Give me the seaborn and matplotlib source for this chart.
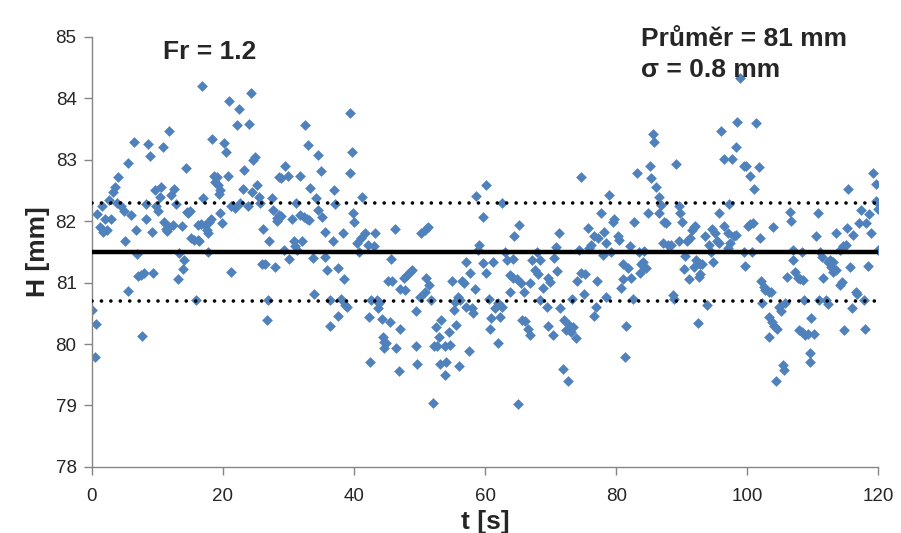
import numpy as np
import pandas as pd
import seaborn as sns
import matplotlib.pyplot as plt

sns.set_theme(style='white')
plt.rcParams['font.family'] = ['Liberation Sans', 'DejaVu Sans']

# measured water level H [mm] over time t [s]
t_s = [
    # 0-9
    0.05, 0.46, 0.6, 0.71, 1.22, 1.58, 1.73, 1.98, 2.24, 2.6, 2.9, 3.26, 3.6, 3.76, 4.02, 4.43,
    4.93, 5.04, 5.45, 5.55, 5.95, 6.36, 6.67, 6.82, 7.07, 7.48, 7.58, 7.99, 8.19, 8.24, 8.6, 8.85,
    # 9-19
    9.1, 9.25, 9.6, 9.76, 10.02, 10.37, 10.53, 10.78, 11.04, 11.29, 11.45, 11.8, 11.8, 12.05, 12.31,
    12.56, 12.82, 13.07, 13.33, 13.68, 13.83, 14.09, 14.34, 14.5, 14.7, 15.0, 15.1, 15.62, 15.87,
    16.12, 16.12, 16.38, 16.63, 16.74, 16.89, 17.24, 17.55, 17.65, 17.65, 17.9, 18.16, 18.26, 18.57, 18.77,
    # 19-29
    19.08, 19.18, 19.34, 19.54, 19.6, 19.85, 20.2, 20.46, 20.71, 20.86, 21.22, 21.22, 21.88, 22.08,
    22.39, 22.6, 23.0, 23.26, 23.76, 23.92, 24.22, 24.43, 24.53, 24.93, 25.14, 25.55, 25.65, 25.95,
    26.16, 26.46, 26.67, 26.82, 27.07, 27.48, 27.58, 27.99, 28.2, 28.3, 28.6, 28.6, 28.85, 28.85,
    # 29-39
    29.25, 29.51, 29.92, 30.12, 30.53, 30.78, 31.0, 31.14, 31.3, 31.8, 31.8, 32.05, 32.3, 32.56, 32.8,
    32.97, 33.17, 33.33, 33.68, 33.83, 34.19, 34.5, 34.5, 35.0, 35.1, 35.51, 35.62, 35.87, 36.38,
    36.38, 36.74, 36.89, 37.04, 37.55, 37.55, 38.06, 38.26, 38.41, 38.67, 38.92,
    # 39-49
    39.34, 39.44, 39.69, 39.85, 40.05, 40.46, 40.71, 41.07, 41.22, 41.73, 42.1, 42.24, 42.49, 42.6,
    43.0, 43.26, 43.5, 43.6, 43.8, 44.27, 44.4, 44.6, 44.9, 44.6, 45.14, 45.55, 45.65, 45.8, 46.31,
    46.46, 46.82, 46.97, 47.07, 47.6, 47.84, 48.1, 48.6, 48.85,
    # 49-59
    49.41, 49.51, 49.61, 50.12, 50.27, 50.78, 50.78, 50.93, 51.29, 51.44, 51.8, 52.05, 52.15, 52.56,
    52.66, 52.97, 53.17, 53.33, 53.83, 53.83, 54.09, 54.5, 54.6, 55.0, 55.2, 55.44, 55.62, 55.8,
    56.02, 56.2, 56.53, 56.74, 57.04, 57.14, 57.55, 57.75, 58.06, 58.16, 58.41, 58.67, 58.92, 59.1,
    # 59-69
    59.69, 59.69, 60.05, 60.2, 60.56, 60.71, 60.86, 61.22, 61.5, 61.88, 62.0, 62.24, 62.49, 62.5,
    63.0, 63.4, 63.77, 63.77, 64.3, 64.27, 64.43, 64.78, 65.04, 65.14, 65.44, 65.65, 65.95, 66.05,
    66.46, 66.82, 66.82, 67.07, 67.58, 67.84, 67.99, 68.35, 68.35, 68.85,
    # 69-79
    69.41, 69.51, 69.61, 69.92, 70.27, 70.53, 70.78, 70.93, 71.29, 71.44, 71.8, 72.05, 72.31, 72.66,
    72.82, 73.07, 73.17, 73.33, 73.83, 73.99, 74.34, 74.6, 74.6, 75.1, 75.2, 75.62, 75.87, 76.13,
    76.63, 76.63, 76.89, 77.04, 77.14, 77.65, 77.9, 78.16, 78.41, 78.41, 78.92,
    # 79-89
    79.18, 79.44, 79.69, 80.2, 80.36, 80.71, 80.97, 81.07, 81.37, 81.47, 81.73, 82.08, 82.24, 82.59,
    82.75, 83.1, 83.41, 83.6, 83.76, 84.0, 84.27, 84.27, 84.53, 84.78, 85.14, 85.29, 85.55, 85.8,
    86.0, 86.46, 86.8, 86.56, 87.07, 87.33, 87.58, 87.84, 88.35, 88.6, 88.85,
    # 89-99
    89.1, 89.5, 89.5, 89.76, 90.02, 90.27, 90.53, 90.8, 91.04, 91.29, 91.55, 91.8, 91.8, 92.05, 92.15,
    92.46, 92.56, 92.7, 92.8, 93.07, 93.58, 93.83, 94.09, 94.5, 94.6, 94.7, 95.0, 95.36, 95.62,
    95.72, 96.02, 96.38, 96.5, 97.04, 97.04, 97.24, 97.4, 97.65, 97.9, 98.26, 98.26, 98.41, 98.92,
    # 99-109
    99.44, 99.44, 99.69, 99.85, 100.05, 100.35, 100.45, 100.71, 100.86, 101.07, 101.37, 101.73,
    101.98, 102.1, 102.24, 102.49, 102.75, 103.26, 103.26, 103.26, 103.6, 103.77, 103.92, 104.12,
    104.43, 104.53, 104.78, 105.14, 105.44, 105.65, 105.8, 106.05, 106.46, 106.67, 106.97, 106.97,
    107.33, 107.68, 107.84, 108.09, 108.34, 108.34, 108.5, 108.6, 108.85,
    # 109-120
    109.25, 109.51, 109.51, 109.76, 110.12, 110.42, 110.78, 110.93, 111.04, 111.44, 111.54, 111.95,
    112.31, 112.3, 112.66, 112.8, 113.07, 113.07, 113.48, 113.58, 114.09, 114.09, 114.5, 114.6,
    114.7, 115.0, 115.2, 115.36, 115.72, 116.02, 116.12, 116.53, 116.74, 117.04, 117.4, 117.75,
    117.9, 118.16, 118.41, 118.57, 118.92, 119.18, 119.59, 119.69, 119.94, 119.95,
]

h_mm = [
    # 0-9
    80.56, 79.79, 80.33, 82.12, 81.91, 82.24, 81.83, 82.03, 81.86, 82.35, 82.03, 82.48, 82.55, 82.29, 82.72, 82.24,
    82.16, 81.67, 80.87, 82.95, 82.10, 83.29, 81.86, 81.46, 81.10, 81.12, 80.13, 81.16, 82.28, 82.03, 83.26, 83.06,
    # 9-19
    81.82, 81.15, 82.50, 82.25, 82.16, 82.40, 82.55, 83.20, 81.99, 81.87, 81.84, 83.46, 81.91, 82.43, 81.94,
    82.52, 82.28, 81.06, 81.48, 81.92, 81.22, 81.37, 82.86, 82.15, 82.13, 82.16, 81.72, 81.70, 80.72,
    81.70, 81.93, 81.67, 81.96, 84.20, 82.37, 81.93, 81.86, 81.50, 81.80, 81.98, 82.03, 83.33, 82.74, 82.64,
    # 19-29
    82.72, 82.59, 82.44, 82.51, 82.14, 81.97, 83.27, 83.13, 82.74, 83.95, 82.24, 81.18, 82.21, 83.57,
    83.82, 82.29, 82.52, 82.83, 82.24, 83.58, 84.08, 82.48, 82.99, 83.05, 82.59, 82.40, 82.29, 81.31,
    81.87, 81.31, 80.39, 80.72, 81.67, 82.37, 82.18, 81.25, 82.00, 82.05, 82.72, 82.10, 82.08, 82.70,
    # 29-39
    81.53, 82.89, 82.74, 81.38, 82.03, 81.67, 81.60, 82.29, 81.53, 82.73, 82.10, 81.67, 82.07, 83.57, 82.04,
    83.24, 82.02, 82.54, 81.40, 80.81, 82.37, 83.08, 82.18, 82.81, 82.07, 81.83, 81.42, 81.20, 80.72,
    80.29, 81.68, 82.50, 82.28, 81.23, 80.46, 80.73, 81.81, 81.05, 80.64, 80.61,
    # 39-49
    82.78, 83.76, 83.13, 82.14, 81.99, 81.64, 81.50, 81.72, 82.39, 81.80, 81.61, 80.44, 79.70, 80.72,
    81.60, 81.80, 80.72, 80.58, 80.66, 80.40, 80.12, 80.04, 80.01, 79.93, 81.03, 80.36, 81.38, 81.02, 81.87,
    79.93, 79.56, 80.25, 80.89, 81.07, 80.88, 81.12, 81.18, 81.20,
    # 49-59
    80.53, 79.96, 79.67, 80.77, 81.80, 81.86, 80.85, 81.07, 81.91, 80.96, 80.72, 79.04, 79.97, 80.28,
    79.97, 80.12, 79.68, 80.39, 79.50, 79.96, 79.70, 80.20, 79.98, 81.02, 80.55, 80.69, 80.31, 80.77,
    79.64, 80.72, 81.02, 81.00, 81.33, 80.61, 79.88, 81.15, 80.58, 80.50, 80.89, 82.41, 81.53, 81.61,
    # 59-69
    82.07, 81.32, 82.59, 81.15, 80.74, 80.25, 80.43, 81.34, 80.58, 80.01, 80.66, 80.44, 82.29, 80.61,
    81.50, 81.37, 81.12, 80.85, 81.38, 81.07, 81.76, 81.05, 79.03, 81.94, 81.00, 80.39, 80.84, 80.38,
    80.25, 80.15, 81.00, 81.36, 81.20, 81.50, 81.14, 81.37, 80.71, 80.91,
    # 69-79
    80.61, 80.29, 81.07, 81.01, 80.15, 81.40, 81.58, 81.19, 81.81, 80.58, 79.60, 80.39, 80.23, 79.39,
    80.31, 80.20, 80.74, 80.28, 80.09, 81.03, 81.53, 82.72, 81.15, 80.81, 81.14, 81.88, 81.56, 81.61,
    81.75, 80.46, 80.60, 81.03, 81.72, 82.14, 81.45, 81.83, 81.65, 80.77, 82.43,
    # 79-89
    81.50, 81.99, 82.03, 81.75, 81.69, 80.91, 81.05, 81.31, 79.79, 80.29, 81.23, 81.59, 81.07, 80.74,
    81.99, 82.78, 81.49, 81.15, 81.31, 81.34, 81.52, 81.26, 81.23, 82.14, 82.89, 82.70, 83.42, 83.28,
    82.55, 82.40, 82.26, 82.14, 81.64, 81.99, 81.97, 81.61, 81.61, 80.80, 80.74,
    # 89-99
    82.93, 82.24, 81.67, 82.13, 81.99, 81.22, 81.43, 81.68, 81.05, 81.72, 81.86, 81.91, 81.26, 81.92, 81.37,
    80.35, 81.09, 81.30, 81.14, 81.30, 81.75, 80.63, 81.61, 81.49, 81.87, 81.34, 81.80, 81.67, 81.64,
    82.13, 83.47, 83.01, 81.92, 81.80, 81.56, 82.28, 81.64, 83.01, 81.75, 81.77, 83.21, 83.62, 84.33,
    # 99-109
    82.89, 81.50, 81.27, 82.89, 81.92, 82.74, 81.95, 81.50, 81.97, 82.52, 83.60, 82.88,
    81.72, 81.02, 80.67, 80.93, 80.88, 80.84, 80.44, 80.12, 80.85, 80.36, 81.90, 80.29,
    79.39, 80.25, 80.60, 80.53, 79.66, 79.58, 80.66, 81.09, 82.15, 82.01, 81.53, 81.36,
    81.18, 81.07, 80.23, 81.05, 81.50, 80.20, 81.04, 80.72, 80.15,
    # 109-120
    80.17, 79.85, 79.70, 80.43, 80.17, 81.75, 82.13, 80.72, 81.49, 81.42, 81.07, 80.72,
    80.65, 81.33, 81.36, 81.26, 81.34, 81.18, 81.20, 81.81, 81.53, 80.96, 81.01, 81.60,
    80.22, 81.61, 81.88, 82.52, 81.26, 80.58, 81.77, 80.85, 80.81, 81.97, 82.18, 80.72,
    80.25, 81.97, 81.27, 82.12, 81.81, 82.78, 82.61, 82.32, 82.19, 81.53,
]

h_mean = 81.5
h_band = [82.3, 80.7]   # mean +/- sigma
x_ticks = [0, 20, 40, 60, 80, 100, 120]
y_ticks = [78, 79, 80, 81, 82, 83, 84, 85]

df = pd.DataFrame({'t': t_s, 'H': h_mm})

fig = plt.figure(figsize=(9.01, 5.33), dpi=100)
ax = fig.add_axes([0.102, 0.124, 0.873, 0.807])

sns.scatterplot(data=df, x='t', y='H', marker='D', color='#4F81BD', s=30,
                linewidth=0, ax=ax, zorder=2)

ax.axhline(h_mean, color='black', lw=3.2, zorder=3)
for lvl in h_band:
    ax.axhline(lvl, color='black', lw=2.6, linestyle=(0, (0.01, 2.6)),
               dash_capstyle='round', zorder=3)

ax.set_xlim(0, 120)
ax.set_ylim(78, 85)
ax.set_xticks(x_ticks)
ax.set_yticks(y_ticks)
ax.tick_params(axis='both', direction='out', length=6, width=1, color='#868686',
               labelsize=13.5, labelcolor='#262626', left=True, bottom=True)
ax.tick_params(axis='x', pad=9)
ax.tick_params(axis='y', pad=5)
for side in ['top', 'right']:
    ax.spines[side].set_visible(False)
for side in ['left', 'bottom']:
    ax.spines[side].set_color('#868686')
    ax.spines[side].set_linewidth(1)

ax.set_xlabel('t [s]', fontsize=19, fontweight='bold', labelpad=4)
ax.set_ylabel('H [mm]', fontsize=19, fontweight='bold', labelpad=4)

ax.text(0.09, 0.965, 'Fr = 1.2', transform=ax.transAxes, fontsize=19,
        fontweight='bold', va='center', ha='left')
ax.text(0.698, 0.995, 'Průměr = 81 mm', transform=ax.transAxes, fontsize=19,
        fontweight='bold', va='center', ha='left')
ax.text(0.698, 0.922, 'σ = 0.8 mm', transform=ax.transAxes, fontsize=19,
        fontweight='bold', va='center', ha='left')

fig.savefig('out.png', dpi=100)
